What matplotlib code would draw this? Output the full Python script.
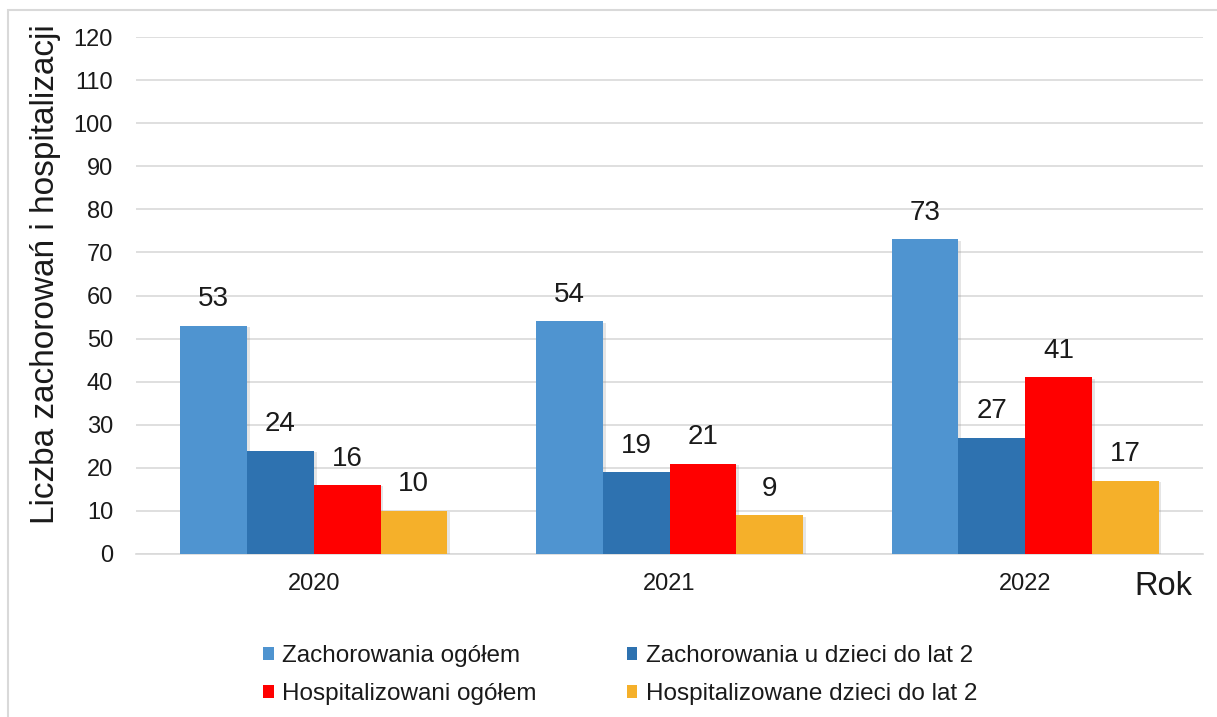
import matplotlib.pyplot as plt
import matplotlib.patheffects as pe
from matplotlib.patches import Patch, Rectangle
import numpy as np

plt.rcParams['font.family'] = ['Liberation Sans', 'DejaVu Sans']

#------------------------------------------------------------------------------
# Data
#------------------------------------------------------------------------------
years = ['2020', '2021', '2022']
series_names = ['Zachorowania ogółem', 'Zachorowania u dzieci do lat 2',
                'Hospitalizowani ogółem', 'Hospitalizowane dzieci do lat 2']
zach_ogolem = [53, 54, 73]
zach_dzieci = [24, 19, 27]
hosp_ogolem = [16, 21, 41]
hosp_dzieci = [10, 9, 17]
yticks = list(range(0, 121, 10))

colors = ['#4F94D0', '#2E72B0', '#FF0000', '#F5B02A']
txtcol = '#1a1a1a'

#------------------------------------------------------------------------------
# Figure
#------------------------------------------------------------------------------
W, H = 1217, 717
fig = plt.figure(figsize=(W/100, H/100), dpi=100)
ax = fig.add_axes([136/W, 1-554/H, (1203-136)/W, (554-37)/H])

x = np.arange(len(years))
w = 0.1875
all_series = [zach_ogolem, zach_dzieci, hosp_ogolem, hosp_dzieci]
shadow = [pe.SimplePatchShadow(offset=(2, -1), shadow_rgbFace='gray', alpha=0.2), pe.Normal()]
for i, vals in enumerate(all_series):
    pos = x + (i-1.5)*w
    bars = ax.bar(pos, vals, width=w, color=colors[i], zorder=3, label=series_names[i])
    for b in bars:
        b.set_path_effects(shadow)
    for p, v in zip(pos, vals):
        ax.annotate(str(v), (p, v), xytext=(0, 14), textcoords='offset points',
                    ha='center', va='baseline', fontsize=20, color=txtcol, zorder=4)

ax.set_xlim(-0.5, 2.5)
ax.set_ylim(0, 120)
ax.set_yticks(yticks)
ax.set_xticks(x)
ax.set_xticklabels(years)
ax.tick_params(axis='y', length=0, pad=16.5, labelsize=17, labelcolor=txtcol)
ax.tick_params(axis='x', length=0, pad=13.5, labelsize=17, labelcolor=txtcol)
ax.yaxis.grid(True, color='#D9D9D9', lw=1.2, zorder=0)
ax.set_axisbelow(True)
for s in ['top', 'right', 'left']:
    ax.spines[s].set_visible(False)
ax.spines['bottom'].set_color('#D9D9D9')
ax.spines['bottom'].set_linewidth(1.2)

fig.text(54/W, 1-274/H, 'Liczba zachorowań i hospitalizacji', rotation=90,
         rotation_mode='anchor', ha='center', va='baseline', fontsize=24, color=txtcol)
fig.text(1163/W, 1-595/H, 'Rok', ha='center', va='baseline', fontsize=23.5, color=txtcol)

# legend filled row by row (matplotlib fills columns first)
order = [0, 2, 1, 3]
handles = [Patch(facecolor=colors[i]) for i in order]
labels = [series_names[i] for i in order]
leg = fig.legend(handles, labels, ncol=2, loc='center', frameon=False,
                 bbox_to_anchor=(620/W, 1-675/H), fontsize=17.5,
                 handlelength=0.45, handleheight=0.45, handletextpad=0.35,
                 columnspacing=3.7, labelspacing=0.65, borderpad=0)
for t in leg.get_texts():
    t.set_color(txtcol)

# light border round the chart area
fig.patches.append(Rectangle((8/W, -0.1), 1.2, 1.1-10/H, fill=False, edgecolor='#D9D9D9',
                             lw=1.5, transform=fig.transFigure, figure=fig))

fig.savefig('out.png', dpi=100)
